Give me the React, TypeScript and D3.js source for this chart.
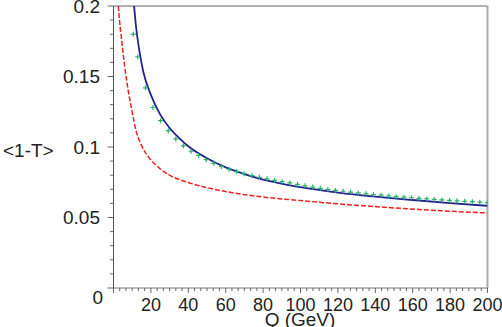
import React from 'react';
import * as d3 from 'd3';

// blue solid curve
const blueQ = [11, 12, 14, 16, 20, 25, 30, 35, 40, 50, 60, 70, 80, 100, 120, 140, 160, 180, 200];
const blueV = [0.2, 0.186, 0.167, 0.153, 0.137, 0.123, 0.1135, 0.1065, 0.1005, 0.092, 0.0855, 0.0807, 0.0768, 0.0715, 0.0677, 0.0648, 0.0624, 0.0602, 0.0583];

// red dashed curve
const redQ = [2.6, 3, 4, 5, 6, 8, 10, 12.5, 15, 19, 25, 30, 40, 50, 60, 70, 80, 100, 120, 150, 175, 200];
const redV = [0.2, 0.193, 0.18, 0.168, 0.157, 0.139, 0.1245, 0.1095, 0.101, 0.0925, 0.0845, 0.08, 0.0748, 0.0712, 0.0684, 0.0662, 0.0645, 0.062, 0.0597, 0.0568, 0.0548, 0.0532];

// green markers
const greenQ = [10.6, 13, 17.1, 21.1, 25.2, 29.3, 33.3, 37.4, 41.5, 45.5, 49.6, 53.7, 57.7, 61.8, 65.9, 69.9,
  74, 78, 82.1, 86.2, 90.2, 94.3, 98.4, 102.4, 106.5, 110.6, 114.6, 118.7, 122.8, 126.8, 130.9, 135,
  139, 143.1, 147.2, 151.2, 155.3, 159.4, 163.4, 167.5, 171.5, 175.6, 179.7, 183.7, 187.8, 191.9, 195.9, 200];
const greenV = [0.18, 0.164, 0.142, 0.128, 0.1187, 0.1116, 0.1057, 0.1008, 0.097, 0.094, 0.091, 0.0884, 0.0862, 0.0843, 0.0826, 0.0811,
  0.0797, 0.0785, 0.0774, 0.0763, 0.0754, 0.0745, 0.0735, 0.0725, 0.0716, 0.0707, 0.0699, 0.0692, 0.0686, 0.068, 0.0674, 0.0668,
  0.0663, 0.0658, 0.0653, 0.0648, 0.0644, 0.064, 0.0636, 0.0632, 0.0628, 0.0625, 0.0621, 0.0618, 0.0615, 0.0612, 0.0609, 0.0606];

const yTicks = [0.05, 0.1, 0.15, 0.2];
const yTickLabels = ['0.05', '0.1', '0.15', '0.2'];
const xTicks = [20, 40, 60, 80, 100, 120, 140, 160, 180, 200];

const W = 502, H = 327;
const left = 113.5, right = 487.5, top = 6, bottom = 288;
const font = 'Liberation Sans, Arial, Helvetica, sans-serif';

const App = () => {
  const x = d3.scaleLinear().domain([0, 200]).range([left, right]);
  const y = d3.scaleLinear().domain([0, 0.2]).range([bottom, top]);

  const line = d3.line<[number, number]>()
    .x(d => x(d[0]))
    .y(d => y(d[1]))
    .curve(d3.curveMonotoneX);

  const blue = line(blueQ.map((q, i) => [q, blueV[i]]));
  const red = line(redQ.map((q, i) => [q, redV[i]]));

  const xMinor = d3.range(61).map(i => i * 10 / 3);
  const yMinor = d3.range(21).map(i => i * 0.01);

  return (
    <svg width={W} height={H} style={{ position: 'absolute', left: 0, top: 0, background: '#fff' }}>
      <defs>
        <clipPath id="plot">
          <rect x={left} y={top} width={right - left} height={bottom - top} />
        </clipPath>
      </defs>

      {/* frame */}
      <line x1={left} x2={right} y1={top} y2={top} stroke="#999" strokeWidth={1.5} />
      <line x1={right} x2={right} y1={top} y2={bottom} stroke="#aaa" strokeWidth={2} />
      <line x1={left} x2={left} y1={top} y2={bottom} stroke="#555" strokeWidth={1} />
      <line x1={left} x2={right} y1={bottom} y2={bottom} stroke="#777" strokeWidth={1} />

      {/* y ticks */}
      {yMinor.map((v, i) => (
        <line key={'ym' + i} x1={left} x2={left - (i % 5 === 0 ? 6 : 3.5)} y1={y(v)} y2={y(v)} stroke="#666" strokeWidth={1} />
      ))}
      {yTicks.map((v, i) => (
        <text key={'yt' + i} x={100} y={y(v)} textAnchor="end" dominantBaseline="central"
          fontFamily={font} fontSize={19} fill="#222">{yTickLabels[i]}</text>
      ))}
      <text x={103} y={297} textAnchor="end" dominantBaseline="central" fontFamily={font} fontSize={19} fill="#222">0</text>

      {/* x ticks */}
      {xMinor.map((v, i) => (
        <line key={'xm' + i} x1={x(v)} x2={x(v)} y1={bottom} y2={bottom + (i % 6 === 0 ? 5 : 3)} stroke="#666" strokeWidth={1} />
      ))}
      {xTicks.map(v => (
        <text key={'xt' + v} x={x(v)} y={311} textAnchor="middle" fontFamily={font} fontSize={18} fill="#222">{v}</text>
      ))}

      {/* axis titles */}
      <text x={300} y={326} textAnchor="middle" fontFamily={font} fontSize={19} fill="#222">Q (GeV)</text>
      <text x={3} y={150} dominantBaseline="central" fontFamily={font} fontSize={19} fill="#222">&lt;1-T&gt;</text>

      <g clipPath="url(#plot)">
        <path d={red ?? ''} fill="none" stroke="#f02020" strokeWidth={1.5} strokeDasharray="5,2" />
        <path d={blue ?? ''} fill="none" stroke="#23238f" strokeWidth={1.8} />
        {greenQ.map((q, i) => {
          const cx = x(q), cy = y(greenV[i]);
          return (
            <g key={'g' + i} stroke="#2bb068" strokeWidth={1.2}>
              <line x1={cx - 2.5} x2={cx + 2.5} y1={cy} y2={cy} />
              <line x1={cx} x2={cx} y1={cy - 2.5} y2={cy + 2.5} />
            </g>
          );
        })}
      </g>
    </svg>
  );
};

export default App;
